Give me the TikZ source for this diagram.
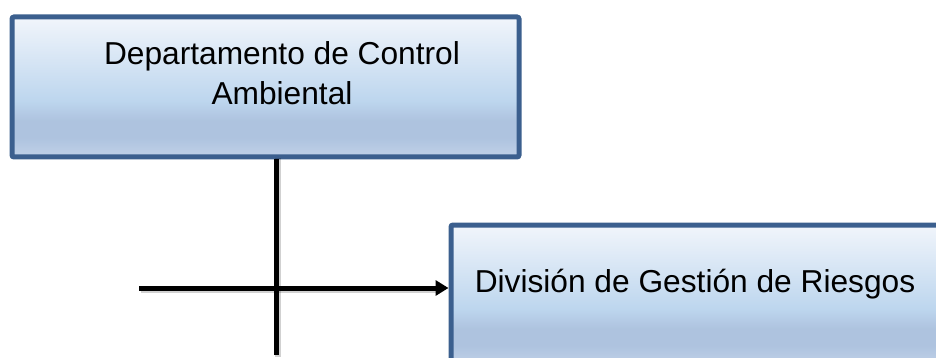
\documentclass[tikz,border=0pt]{standalone}
\usepackage{fontspec}
\setmainfont{Liberation Sans}
\usetikzlibrary{arrows.meta}
\definecolor{bordercol}{HTML}{3B5F8E}
\definecolor{gA}{HTML}{F1F5FB}
\definecolor{gB}{HTML}{BDD6EE}
\definecolor{gC}{HTML}{AEC3DF}
\definecolor{gD}{HTML}{C0D1E8}
\pgfdeclareverticalshading{boxshade}{100bp}{color(0bp)=(gD); color(25bp)=(gD); color(32bp)=(gC); color(38bp)=(gC); color(45bp)=(gB); color(75bp)=(gA); color(100bp)=(gA)}
\tikzset{
  orgbox/.style={draw=bordercol, line width=5pt, rounded corners=2pt, shading=boxshade, minimum width=507pt, minimum height=140pt, inner sep=0pt, anchor=north west},
  boxtext/.style={font=\fontsize{31.7}{40}\selectfont, align=center, inner sep=0pt, anchor=base},
  conn/.style={line width=5pt, black},
  connshadow/.style={line width=6pt, black, opacity=0.18}
}
\begin{document}
\begin{tikzpicture}[x=1pt,y=1pt]
\useasboundingbox (0,0) rectangle (936,-358);
\clip (0,0) rectangle (936,-358);
\node[orgbox] (dep) at (9.5,-14.5) {};
\node[orgbox] (div) at (448.5,-222.5) {};
\node[boxtext] (deptext) at (282,-105) {Departamento de Control\\Ambiental};
\node[boxtext] (divtext) at (695,-292) {División de Gestión de Riesgos};
\coordinate (vend) at (276,-355);
\coordinate (hstart) at (139,-288);
\coordinate (vtop) at (276,-157);
\draw[connshadow] ([shift={(1.5,-1.5)}]vtop) -- ([shift={(1.5,-1.5)}]vend);
\draw[connshadow] ([shift={(1.5,-1.5)}]hstart) -- ([shift={(-10,-1.5)}]hstart -| div.west);
\draw[conn] (dep.south -| vend) -- (vend);
\draw[conn, -{Triangle[length=13pt,width=15pt]}] (hstart) -- (hstart -| div.west);
\end{tikzpicture}
\end{document}
